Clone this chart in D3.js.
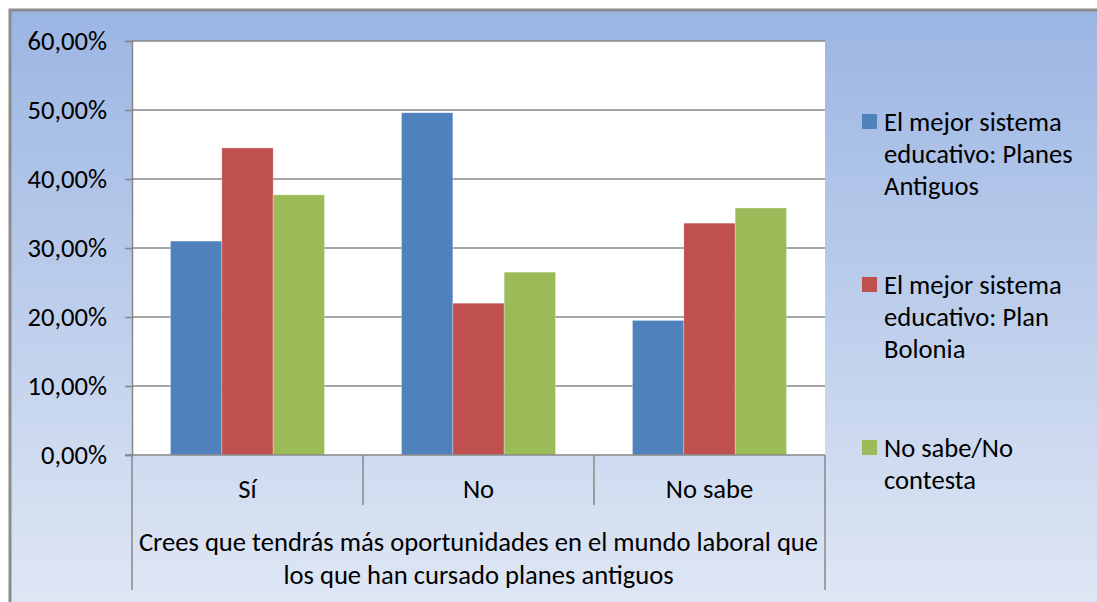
<!DOCTYPE html>
<html>
<head>
<meta charset="utf-8">
<script src="https://cdn.jsdelivr.net/npm/d3@7"></script>
<style>
  html, body { margin: 0; padding: 0; background: #ffffff; }
  svg { display: block; font-family: Carlito, Lato, sans-serif; }
</style>
</head>
<body>
<svg id="chart" width="1097" height="602"></svg>
<script>
// Survey answers (share of respondents) per answer category
const categories = ["Sí", "No", "No sabe"];
const seriesNames = [
  ["El mejor sistema", "educativo: Planes", "Antiguos"],
  ["El mejor sistema", "educativo: Plan", "Bolonia"],
  ["No sabe/No", "contesta"]
];
const planesAntiguos = [0.310, 0.496, 0.195];
const planBolonia    = [0.445, 0.220, 0.336];
const noSabe         = [0.377, 0.265, 0.358];
const seriesColors = ["#4f81bd", "#c0504d", "#9bbb59"];
const yTicks = [0, 0.1, 0.2, 0.3, 0.4, 0.5, 0.6];
const groupTitle = [
  "Crees que tendrás más oportunidades en el mundo laboral que",
  "los que han cursado planes antiguos"
];

const series = [planesAntiguos, planBolonia, noSabe];

const svg = d3.select("#chart");
const W = 1097, H = 602;
const frame = { x: 10, y: 10 };
const plot = { left: 132, right: 825, top: 41, bottom: 455 };
const fontSize = "26.6px";

// Chart background: blue vertical gradient
const defs = svg.append("defs");
const grad = defs.append("linearGradient")
  .attr("id", "bg").attr("x1", 0).attr("y1", 0).attr("x2", 0).attr("y2", 1);
grad.append("stop").attr("offset", "0%").attr("stop-color", "#9bb5e3");
grad.append("stop").attr("offset", "100%").attr("stop-color", "#dfe7f4");

svg.append("rect").attr("x", 0).attr("y", 0).attr("width", W).attr("height", H).attr("fill", "#ffffff");
svg.append("rect")
  .attr("x", frame.x).attr("y", frame.y)
  .attr("width", W - frame.x + 5).attr("height", H - frame.y + 5)
  .attr("fill", "url(#bg)")
  .attr("stroke", "#8c8c8c").attr("stroke-width", 3);

// Scales
const y = d3.scaleLinear().domain([0, 0.6]).range([plot.bottom, plot.top]);
const x0 = d3.scaleBand().domain(categories).range([plot.left, plot.right]);
// 3 bars + gap of 1.5 bar widths per category
const barW = x0.bandwidth() / 4.5;
const x1 = d3.scaleBand().domain(d3.range(series.length))
  .range([0, barW * series.length]);

// Plot area
svg.append("rect")
  .attr("x", plot.left).attr("y", plot.top)
  .attr("width", plot.right - plot.left).attr("height", plot.bottom - plot.top)
  .attr("fill", "#ffffff");

// Gridlines
const fmt = v => d3.format(".2f")(v * 100).replace(".", ",") + "%";
svg.append("g")
  .selectAll("line").data(yTicks.filter(t => t > 0)).join("line")
  .attr("x1", plot.left).attr("x2", plot.right)
  .attr("y1", d => y(d)).attr("y2", d => y(d))
  .attr("stroke", "#878787").attr("stroke-width", 1.5);

// Bars
const groups = svg.append("g").selectAll("g").data(categories).join("g")
  .attr("transform", c => `translate(${x0(c) + (x0.bandwidth() - barW * 3) / 2},0)`);
groups.selectAll("rect")
  .data((c, ci) => series.map((s, si) => ({ si, v: s[ci] })))
  .join("rect")
  .attr("x", d => x1(d.si))
  .attr("y", d => y(d.v))
  .attr("width", x1.bandwidth())
  .attr("height", d => y(0) - y(d.v))
  .attr("fill", d => seriesColors[d.si])
  .attr("stroke", "rgba(255,255,255,0.35)").attr("stroke-width", 0.8);

// Y axis
const yAxis = d3.axisLeft(y).tickValues(yTicks).tickFormat(fmt).tickSize(7).tickPadding(18);
const yg = svg.append("g").attr("transform", `translate(${plot.left},0)`).call(yAxis);
yg.select(".domain").attr("stroke", "#878787").attr("stroke-width", 1.5);
yg.selectAll(".tick line").attr("stroke", "#878787").attr("stroke-width", 1.5);
yg.selectAll(".tick text").attr("fill", "#000").style("font-size", fontSize)
  .attr("font-family", "Carlito, Lato, sans-serif");

// Category axis (two levels)
const axisColor = "#878787";
svg.append("line")
  .attr("x1", plot.left - 7).attr("x2", plot.right)
  .attr("y1", plot.bottom).attr("y2", plot.bottom)
  .attr("stroke", axisColor).attr("stroke-width", 1.5);
const sepX = categories.map(c => x0(c)).concat([plot.right]);
svg.append("g").selectAll("line").data(sepX).join("line")
  .attr("x1", d => d).attr("x2", d => d)
  .attr("y1", plot.bottom)
  .attr("y2", (d, i) => (i === 0 || i === sepX.length - 1) ? 590 : 505)
  .attr("stroke", axisColor).attr("stroke-width", 1.5);

svg.append("g").selectAll("text").data(categories).join("text")
  .attr("x", c => x0(c) + x0.bandwidth() / 2)
  .attr("y", 498)
  .attr("text-anchor", "middle")
  .style("font-size", fontSize)
  .text(c => c);

svg.append("g").selectAll("text").data(groupTitle).join("text")
  .attr("x", (plot.left + plot.right) / 2)
  .attr("y", (d, i) => 551 + i * 33)
  .attr("text-anchor", "middle")
  .style("font-size", fontSize)
  .text(d => d);

// Legend
const legend = svg.append("g").selectAll("g").data(seriesNames).join("g")
  .attr("transform", (d, i) => `translate(862, ${114 + i * 163})`);
legend.append("rect")
  .attr("width", 15).attr("height", 15)
  .attr("fill", (d, i) => seriesColors[i]);
legend.append("text")
  .attr("x", 22).attr("y", 17)
  .style("font-size", fontSize)
  .selectAll("tspan").data(d => d).join("tspan")
  .attr("x", 22).attr("dy", (d, i) => i === 0 ? 0 : 32)
  .text(d => d);
</script>
</body>
</html>
